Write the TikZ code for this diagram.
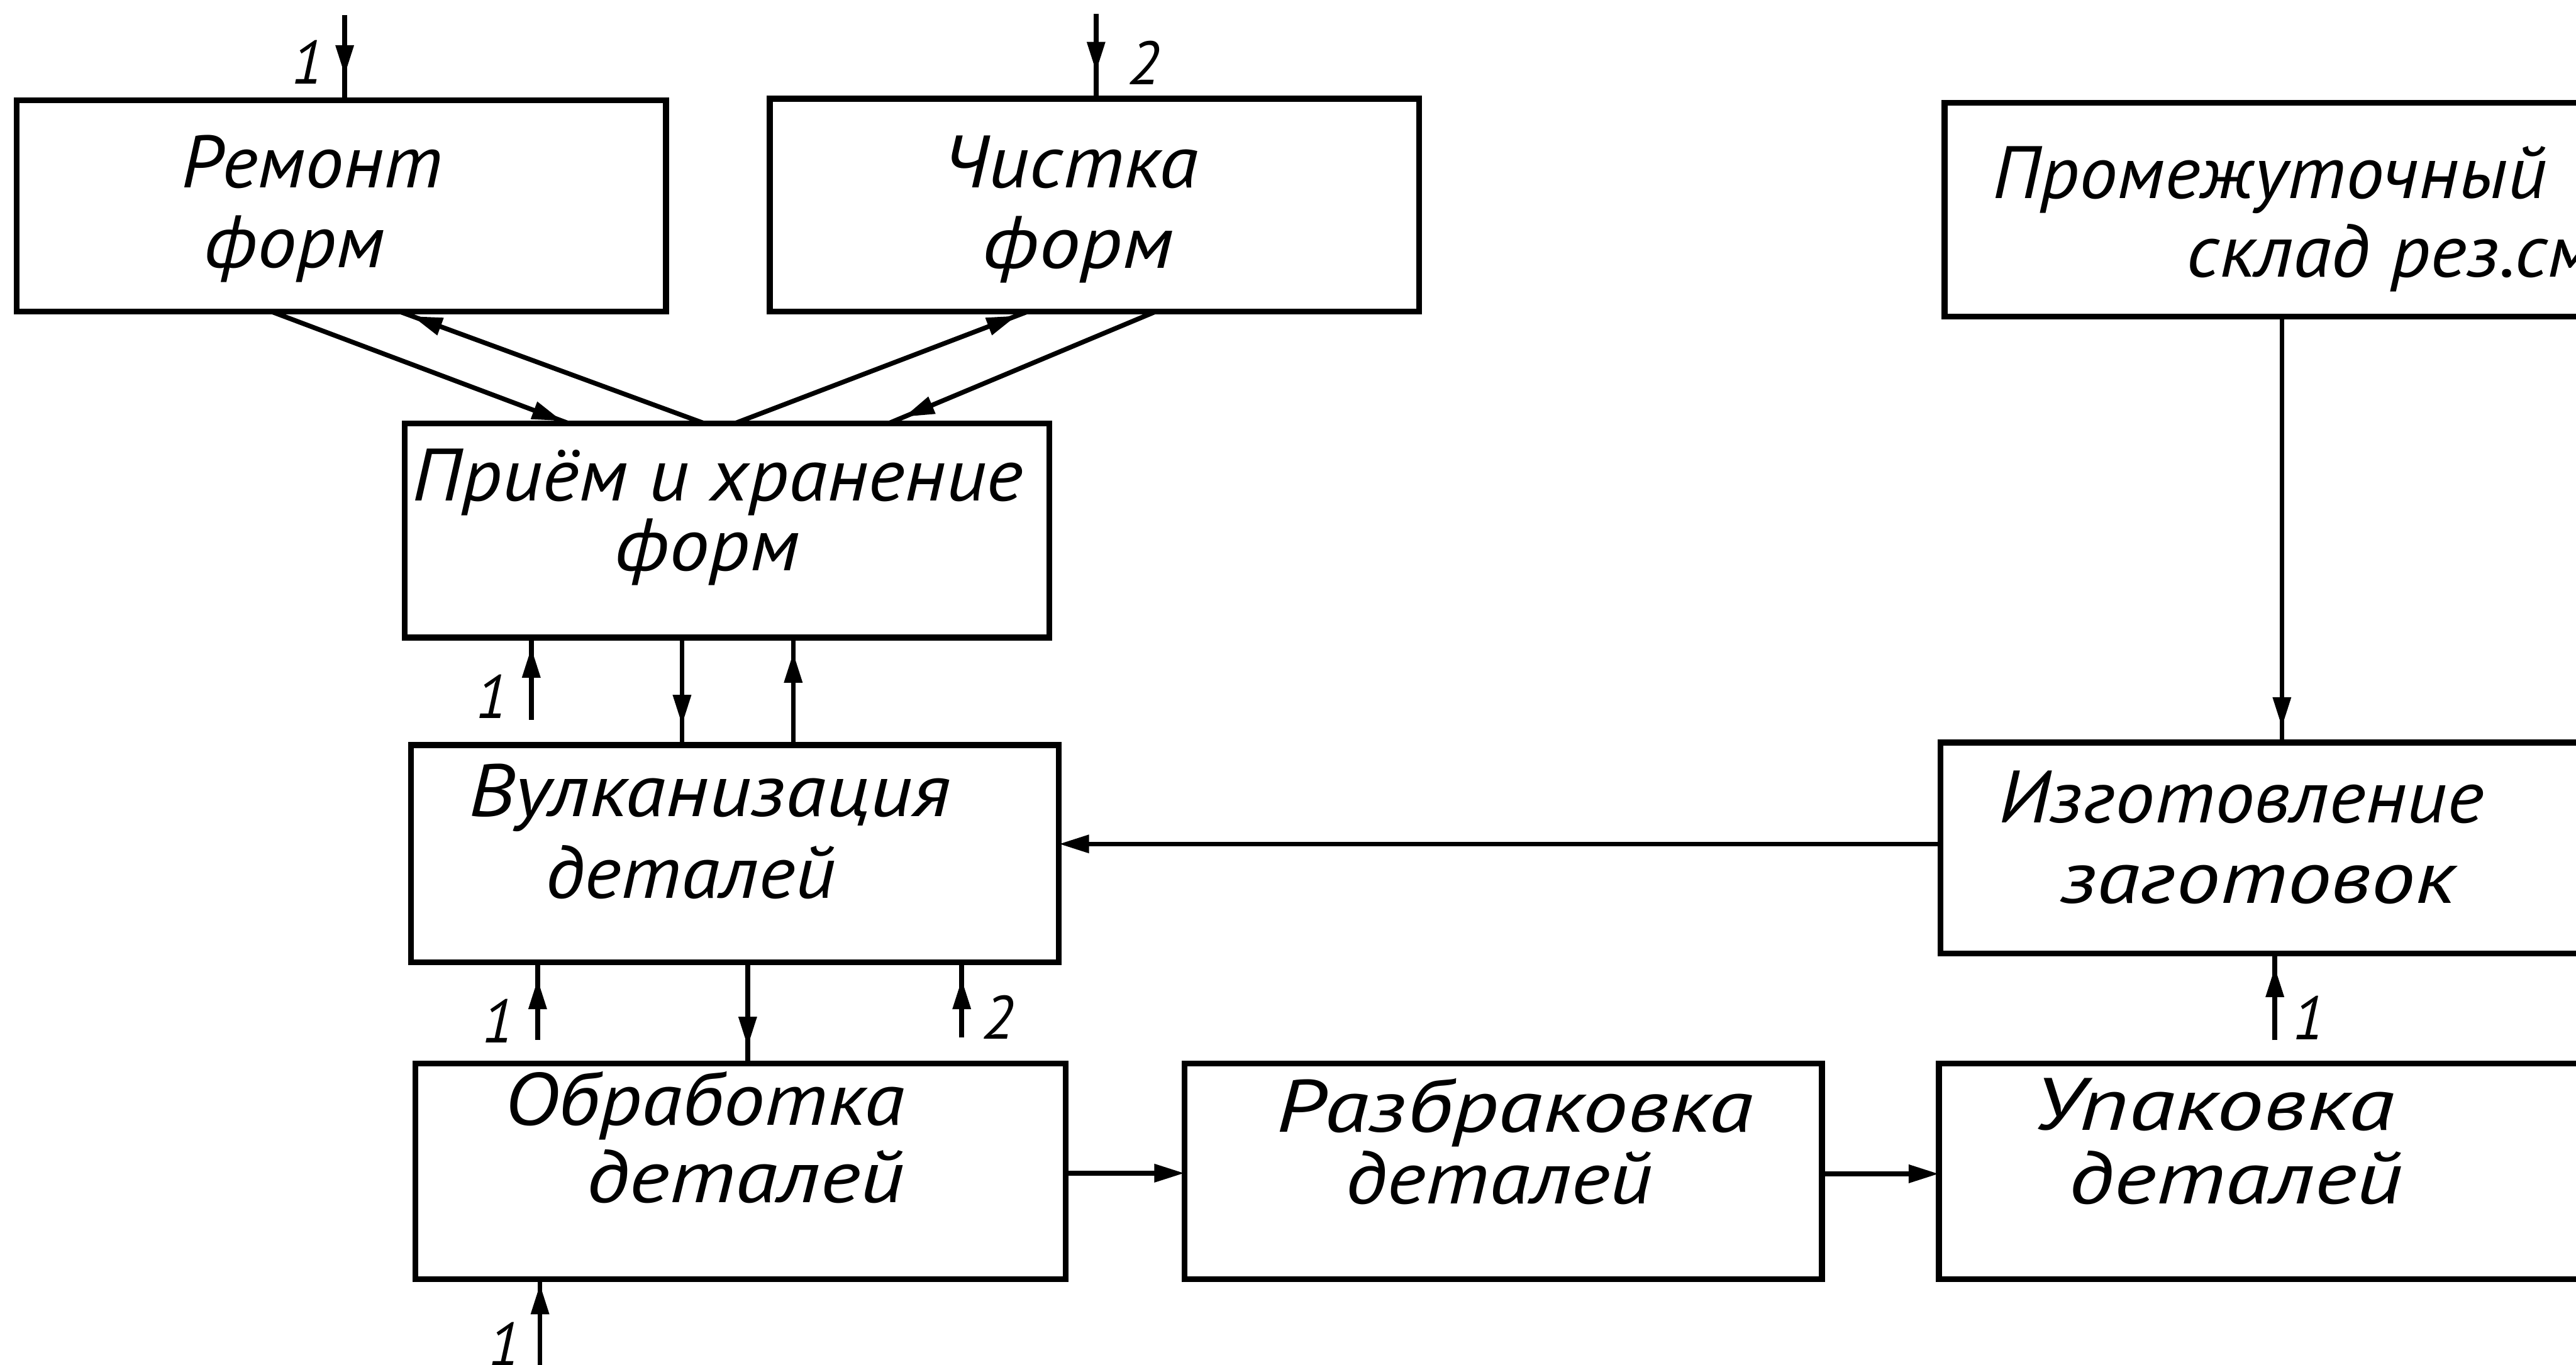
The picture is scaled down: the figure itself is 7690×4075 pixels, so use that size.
\documentclass[tikz,border=0pt]{standalone}
\usepackage{fontspec}
\usepackage{graphicx}
\setmainfont{PT Sans}
\usetikzlibrary{arrows.meta,decorations.markings}
\newcommand\hw[2]{\resizebox{#1cm}{\height}{#2}}
\tikzset{
  box/.style={draw, rectangle, line width=5pt, inner sep=0pt, outer sep=0pt, anchor=north west},
  conn/.style={line width=4pt},
  tipat/.style={postaction={decorate}, decoration={markings, mark=at position #1 with {\arrow{Triangle[length=0.9cm,width=0.52cm]}}}},
  tipend/.style={-{Triangle[length=0.9cm,width=0.52cm]}},
  txt/.style={anchor=base west, inner sep=0pt, font=\fontsize{63}{68}\selectfont\itshape},
  lbl/.style={inner sep=0pt, font=\fontsize{52}{56}\selectfont\itshape},
}
\begin{document}
\begin{tikzpicture}[x=0.01cm, y=-0.01cm]
\path[use as bounding box] (0,0) rectangle (7690,4075);
\clip (0,0) rectangle (7690,4075);

% boxes
\node[box, minimum width=19.37cm, minimum height=6.30cm] (rem)   at (50,300)   {};
\node[box, minimum width=19.37cm, minimum height=6.35cm] (chist) at (2298,295) {};
\node[box, minimum width=21.95cm, minimum height=6.38cm] (prom)  at (5805,307) {};
\node[box, minimum width=19.23cm, minimum height=6.39cm] (priem) at (1208,1264) {};
\node[box, minimum width=19.33cm, minimum height=6.48cm] (vulk)  at (1227,2225) {};
\node[box, minimum width=22.07cm, minimum height=6.30cm] (izg)   at (5793,2217) {};
\node[box, minimum width=19.40cm, minimum height=6.43cm] (obr)   at (1240,3176) {};
\node[box, minimum width=19.02cm, minimum height=6.43cm] (razbr) at (3536,3176) {};
\node[box, minimum width=22.12cm, minimum height=6.43cm] (upak)  at (5788,3176) {};

% texts
\node[txt] (tRem1) at (540,561)  {\hw{7.80}{Ремонт}};
\node[txt] (tRem2) at (608,798)  {\hw{5.40}{форм}};
\node[txt] (tCh1)  at (2812,561) {\hw{7.64}{Чистка}};
\node[txt] (tCh2)  at (2933,800) {\hw{5.70}{форм}};
\node[txt] (tPr1)  at (5947,593) {\hw{16.53}{Промежуточный}};
\node[txt] (tPr2)  at (6527,827) {\hw{12.70}{склад рез.см.}};
\node[txt] (tPm1)  at (1230,1496) {\hw{18.22}{Приём и хранение}};
\node[txt] (tPm2)  at (1834,1704) {\hw{5.52}{форм}};
\node[txt] (tVu1)  at (1398,2437) {\hw{14.39}{Вулканизация}};
\node[txt] (tVu2)  at (1628,2681) {\hw{8.65}{деталей}};
\node[txt] (tIz1)  at (5966,2457) {\hw{14.47}{Изготовление}};
\node[txt] (tIz2)  at (6150,2697) {\hw{11.81}{заготовок}};
\node[txt] (tOb1)  at (1505,3360) {\hw{11.94}{Обработка}};
\node[txt] (tOb2)  at (1750,3590) {\hw{9.49}{деталей}};
\node[txt] (tRa1)  at (3810,3380) {\hw{14.23}{Разбраковка}};
\node[txt] (tRa2)  at (4016,3595) {\hw{9.16}{деталей}};
\node[txt] (tUp1)  at (6068,3375) {\hw{10.79}{Упаковка}};
\node[txt] (tUp2)  at (6176,3595) {\hw{9.96}{деталей}};

% number labels
\node[lbl] (n1)  at (918,185)   {1};
\node[lbl] (n2)  at (3415,188)  {2};
\node[lbl] (n3)  at (1468,2080) {1};
\node[lbl] (n4)  at (1486,3048) {1};
\node[lbl] (n5)  at (2979,3038) {2};
\node[lbl] (n6)  at (6892,3040) {1};
\node[lbl] (n7)  at (1506,4013) {1};

% helper coordinates
\coordinate (in1) at (1029,45);
\coordinate (in2) at (3272,41);
\coordinate (xa1) at (810,0);   \coordinate (xa2) at (1697,0);
\coordinate (xb1) at (2102,0);  \coordinate (xb2) at (1193,0);
\coordinate (xc1) at (2194,0);  \coordinate (xc2) at (3068,0);
\coordinate (xd1) at (3450,0);  \coordinate (xd2) at (2653,0);
\coordinate (p1)  at (1586,2150);
\coordinate (xpv) at (2036,0);
\coordinate (xvp) at (2368,0);
\coordinate (v1)  at (1605,3105);
\coordinate (xvo) at (2232,0);
\coordinate (v2)  at (2871,3098);
\coordinate (xpi) at (6812,0);
\coordinate (yiv) at (0,2520);
\coordinate (u1)  at (6791,3106);
\coordinate (yor) at (0,3503);
\coordinate (yru) at (0,3505);
\coordinate (o1)  at (1612,4090);

% connectors
\draw[conn, tipat=-0.75cm] (in1) -- (in1 |- rem.north);
\draw[conn, tipat=-0.8cm]  (in2) -- (in2 |- chist.north);
\draw[conn, tipat=-0.2cm]  (xa1 |- rem.south) -- (xa2 |- priem.north);
\draw[conn, tipat=-0.4cm]  (xb1 |- priem.north) -- (xb2 |- rem.south);
\draw[conn, tipat=-0.35cm] (xc1 |- priem.north) -- (xc2 |- chist.south);
\draw[conn, tipat=-0.5cm]  (xd1 |- chist.south) -- (xd2 |- priem.north);
\draw[conn, tipat=-0.3cm]  (p1) -- (p1 |- priem.south);
\draw[conn, tipat=-0.6cm]  (xpv |- priem.south) -- (xpv |- vulk.north);
\draw[conn, tipat=-0.45cm] (xvp |- vulk.north) -- (xvp |- priem.south);
\draw[conn, tipat=-0.5cm]  (v1) -- (v1 |- vulk.south);
\draw[conn, tipat=-0.5cm]  (xvo |- vulk.south) -- (xvo |- obr.north);
\draw[conn, tipat=-0.5cm]  (v2) -- (v2 |- vulk.south);
\draw[conn, tipat=-0.45cm] (xpi |- prom.south) -- (xpi |- izg.north);
\draw[conn, tipend] (izg.west |- yiv) -- (vulk.east |- yiv);
\draw[conn, tipat=-0.4cm]  (u1) -- (u1 |- izg.south);
\draw[conn, tipend] (obr.east |- yor) -- (razbr.west |- yor);
\draw[conn, tipend] (razbr.east |- yru) -- (upak.west |- yru);
\draw[conn, tipat=-0.15cm] (o1) -- (o1 |- obr.south);
\end{tikzpicture}
\end{document}
